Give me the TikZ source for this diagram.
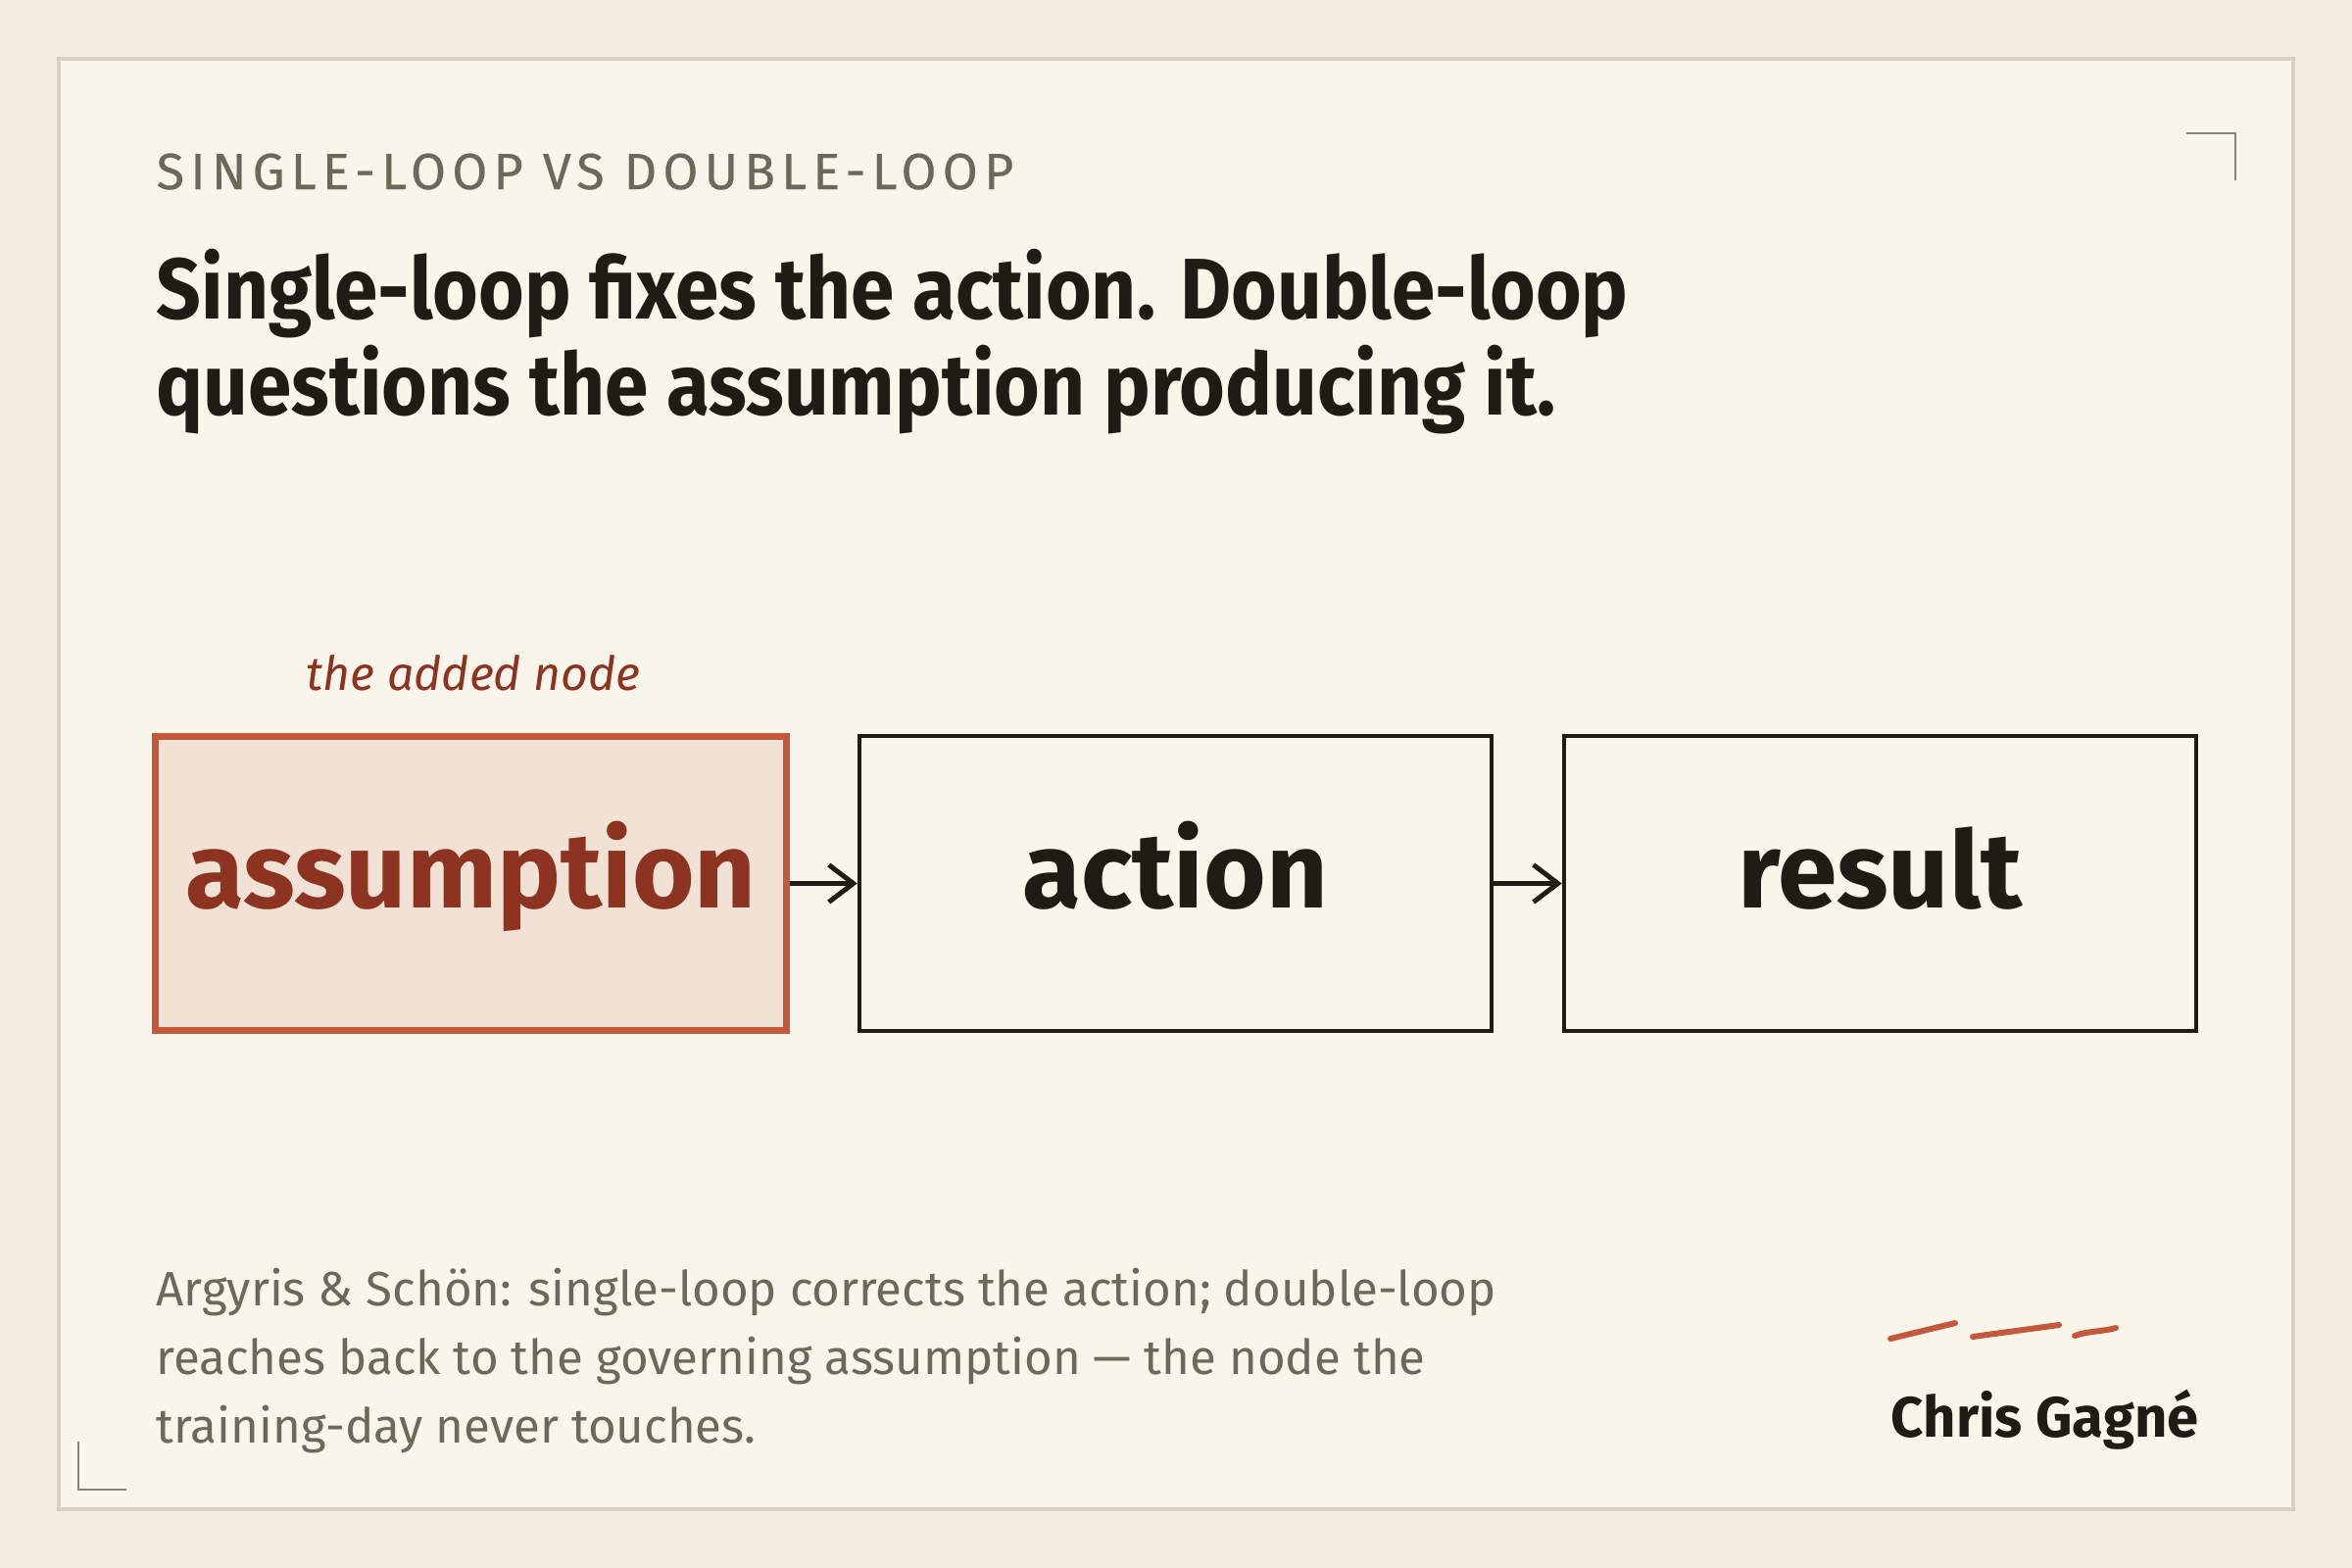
\documentclass[tikz,border=0pt]{standalone}
\usepackage{fontspec}
\setmainfont{Fira Sans}
\newfontfamily\kickfont[LetterSpace=12, FakeBold=0.4]{Fira Sans}
\newfontfamily\headfont[FakeStretch=0.91]{Fira Sans}
\usepackage{tikz}
\usetikzlibrary{arrows.meta}
\definecolor{paper}{HTML}{F4EEE2}
\definecolor{card}{HTML}{FAF5EA}
\definecolor{rule}{HTML}{D6D0C4}
\definecolor{ink}{HTML}{1F1C16}
\definecolor{muted}{HTML}{6E685A}
\definecolor{rust}{HTML}{C4583C}
\definecolor{rustdark}{HTML}{8C3322}
\definecolor{blush}{HTML}{F2E1D5}
\definecolor{tick}{HTML}{8A8477}
\newcommand{\fsize}[1]{\fontsize{#1}{#1}\selectfont}
\tikzset{
  box/.style={draw=ink, line width=1.3pt, fill=card, text=ink,
    minimum width=6.445cm, minimum height=3.01cm,
    text height=22pt, text depth=7.8pt, font=\fsize{31}\bfseries},
  addedbox/.style={box, draw=rust, line width=2pt, fill=blush, text=rustdark,
    minimum width=6.44cm, minimum height=3.0cm},
  flow/.style={ink, line width=1.4pt, -{Straight Barb[length=2.5mm, width=3.8mm]}},
  textline/.style={anchor=base west, inner sep=0pt},
}

\begin{document}
\begin{tikzpicture}[x=0.01cm, y=-0.01cm]
% paper and card
\fill[paper] (0,0) rectangle (2400,1600);
\useasboundingbox (0,0) rectangle (2400,1600);
\draw[rule, fill=card, line width=0.9pt] (60,60) rectangle (2340,1540);

% corner ticks
\draw[tick, line width=0.7pt] (2231,136) -- (2281,136) -- (2281,184);
\draw[tick, line width=0.7pt] (80,1471) -- (80,1520) -- (129,1520);

% heading
\node[textline, muted, font=\kickfont\fsize{14.8}] (kicker) at (159,193)
  {SINGLE-LOOP VS DOUBLE-LOOP};
\node[textline, ink, font=\headfont\fsize{25}\bfseries] (title1) at (159,325)
  {Single-loop fixes the action. Double-loop};
\node[textline, ink, font=\headfont\fsize{25}\bfseries] (title2) at (159,423)
  {questions the assumption producing it.};

% the loop
\node[textline, rustdark, font=\fsize{13.7}\itshape] (addedlabel) at (312,704)
  {the added node};
\node[addedbox] (assumption) at (480.5,901.5) {assumption};
\node[box] (action) at (1199.5,901.5) {action};
\node[box] (result) at (1918.5,901.5) {result};
\foreach \a/\b in {assumption/action, action/result}
  \draw[flow] (\a) -- (\b);

% footnote
\foreach \line [count=\i] in {Argyris \& Schön: single-loop corrects the action; double-loop,
    reaches back to the governing assumption — the node the,
    training-day never touches.}
  \node[textline, muted, font=\fsize{14}] (note\i) at (159,{1332+70*(\i-1)}) {\line};

% signature
\draw[rust, line width=1.7pt, line cap=round]
  (1929,1366) -- (1995,1350)
  (2013,1364) -- (2101,1352)
  (2117,1363) .. controls (2130,1358) and (2145,1359) .. (2159,1355);
\node[textline, ink, font=\fsize{16.5}\bfseries] (author) at (1929,1466) {Chris Gagné};
\end{tikzpicture}
\end{document}
